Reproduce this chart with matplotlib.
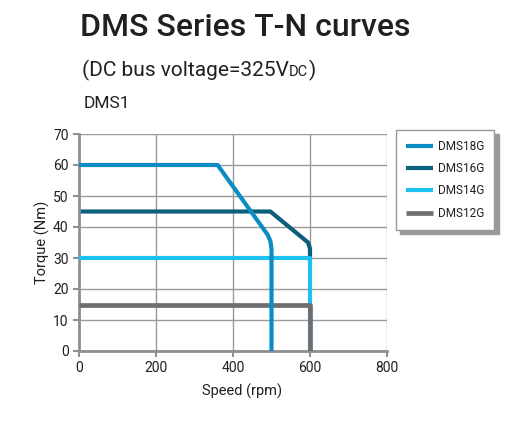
import matplotlib
matplotlib.use("Agg")
import matplotlib.pyplot as plt

plt.rcParams['font.family'] = ['Roboto', 'DejaVu Sans']

series_names = ["DMS18G", "DMS16G", "DMS14G", "DMS12G"]
speed_18 = [0, 360, 490, 497, 500, 500]
torque_18 = [60, 60, 37.5, 35.5, 33, 0]
speed_16 = [0, 497, 595, 600, 600]
torque_16 = [45, 45, 35, 33, 30]
speed_14 = [0, 600, 600]
torque_14 = [30, 30, 0]
speed_12 = [0, 600, 600]
torque_12 = [15, 15, 0]
x_ticks = [0, 200, 400, 600, 800]
y_ticks = [0, 10, 20, 30, 40, 50, 60, 70]

colors = {"DMS18G": "#0b8cc4", "DMS16G": "#0b5f7b", "DMS14G": "#1cc1ef", "DMS12G": "#6e6f72"}
text_color = "#231f20"

fig = plt.figure(figsize=(5.11, 4.21), dpi=100)
ax = fig.add_axes([79/511, 1-351/421, (387-79)/511, (351-134)/421])

data = {
    "DMS18G": (speed_18, torque_18, 5),
    "DMS16G": (speed_16, torque_16, 2),
    "DMS14G": (speed_14, torque_14, 3),
    "DMS12G": (speed_12, torque_12, 4),
}
handles = []
for name in series_names:
    xs, ys, z = data[name]
    lw = 3.4 if name == "DMS12G" else 3.0
    h, = ax.plot(xs, ys, color=colors[name], lw=lw, zorder=z, label=name,
                 solid_joinstyle='round', solid_capstyle='butt')
    handles.append(h)

ax.set_xlim(0, 800)
ax.set_ylim(0, 70)
ax.set_xticks(x_ticks)
ax.set_yticks(y_ticks)
ax.grid(True, color="#9a9a9a", lw=1.0, zorder=0)
ax.set_axisbelow(True)
for s in ["top", "right"]:
    ax.spines[s].set_visible(False)
for s in ["left", "bottom"]:
    ax.spines[s].set_color("#8f8f8f")
    ax.spines[s].set_linewidth(2.0)
ax.tick_params(axis='both', colors="#8f8f8f", length=4, width=1.5, direction='out',
               labelcolor=text_color, labelsize=10)
ax.set_xlabel("Speed (rpm)", fontsize=10.5, color=text_color)
ax.xaxis.set_label_coords((242-79)/308, -0.15)
ax.set_ylabel("Torque (Nm)", fontsize=10.5, color=text_color, labelpad=2)

leg = fig.legend(handles=handles, labels=series_names, loc='upper left',
                 bbox_to_anchor=(396/511, 1-130/421), frameon=True, fancybox=False,
                 shadow={'color': '#9a9a9a', 'alpha': 1.0, 'ox': 3, 'oy': -3},
                 fontsize=8.5, handlelength=2.3, handletextpad=0.42, labelspacing=0.78,
                 borderpad=0.85, borderaxespad=0, edgecolor="#9a9a9a")
for t in leg.get_texts():
    t.set_color(text_color)
leg.get_frame().set_linewidth(1.0)

fig.text(80/511, 1-27/421, "DMS Series T-N curves", fontsize=23, color=text_color,
         va='center', ha='left', fontweight='medium')

# subtitle with small-caps style "DC"
renderer = fig.canvas.get_renderer()
sub_y = 1 - 76/421
t1 = fig.text(82/511, sub_y, "(DC bus voltage=325V", fontsize=15, color=text_color,
              va='baseline', ha='left')
w1 = t1.get_window_extent(renderer).width
t2 = fig.text(82/511 + w1/511, sub_y, "DC", fontsize=10.5, color=text_color,
              va='baseline', ha='left')
w2 = t2.get_window_extent(renderer).width
fig.text(82/511 + (w1 + w2 + 1)/511, sub_y, ")", fontsize=15, color=text_color,
         va='baseline', ha='left')

fig.text(84/511, 1-103/421, "DMS1", fontsize=12.5, color=text_color, va='center', ha='left')

fig.savefig("out.png", dpi=100)
